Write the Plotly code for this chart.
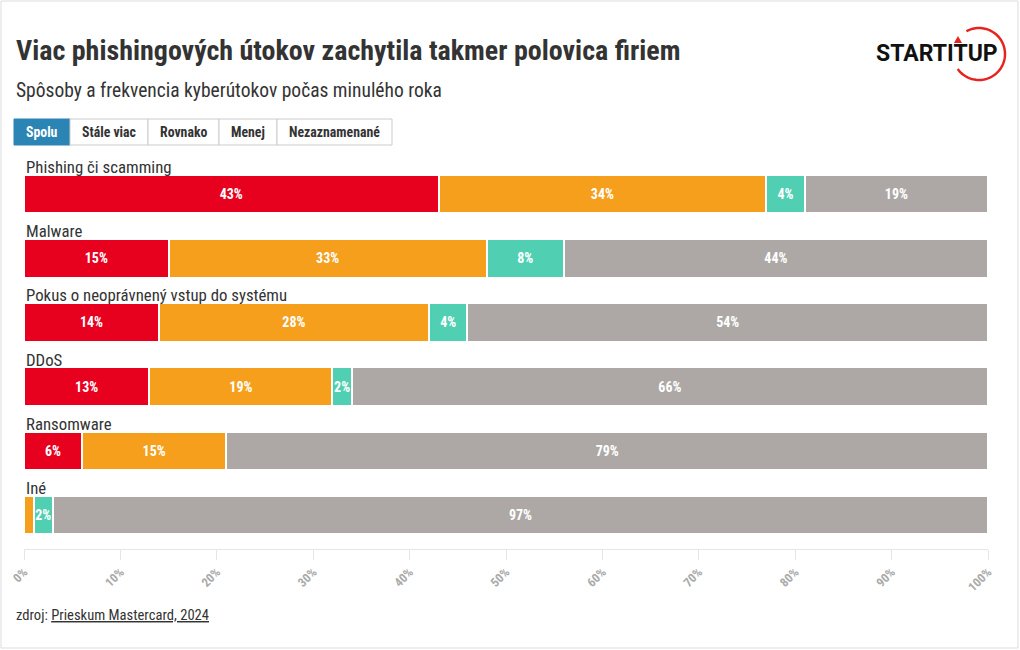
import math
import plotly.graph_objects as go

categories = ["Phishing či scamming", "Malware", "Pokus o neoprávnený vstup do systému",
              "DDoS", "Ransomware", "Iné"]
series_names = ["Stále viac", "Rovnako", "Menej", "Nezaznamenané"]
stale_viac = [43, 15, 14, 13, 6, 0]
rovnako = [34, 33, 28, 19, 15, 1]
menej = [4, 8, 4, 2, 0, 2]
nezaznamenane = [19, 44, 54, 66, 79, 97]
series_values = [stale_viac, rovnako, menej, nezaznamenane]
colors = ["#E8001F", "#F59F1D", "#50CFB2", "#ADA8A5"]
tick_values = list(range(0, 101, 10))
tick_labels = [f"{v}%" for v in tick_values]
buttons = ["Spolu", "Stále viac", "Rovnako", "Menej", "Nezaznamenané"]

W_PX, H_PX = 1020, 650
L, R, T, B = 24, 32, 162, 101
PW, PH = W_PX - L - R, H_PX - T - B
COND = "Roboto Condensed, Liberation Sans Narrow, DejaVu Sans Condensed, Roboto, sans-serif"


def px2x(px):
    return (px - L) / PW


def py2y(py):
    return (H_PX - B - py) / PH


fig = go.Figure()
ypos = list(range(len(categories)))
for name, vals, col in zip(series_names, series_values, colors):
    fig.add_trace(go.Bar(
        name=name, y=ypos, x=vals, orientation="h",
        marker=dict(color=col, line=dict(color="white", width=2)),
        width=0.6,
        text=[f"{v}%" if v >= 2 else "" for v in vals],
        textposition="inside", insidetextanchor="middle", textangle=0,
        textfont=dict(family=COND, size=14, color="white", weight="bold"),
        constraintext="none",
        hoverinfo="skip",
    ))

annotations = []
for i, c in enumerate(categories):
    annotations.append(dict(x=0, xref="paper", y=i - 0.42, yref="y", text=c,
                            xanchor="left", yanchor="middle", showarrow=False,
                            font=dict(family=COND, size=16.8, color="#333333")))

# title & subtitle
annotations.append(dict(x=px2x(14), xref="paper", y=py2y(50), yref="paper",
                        text="<b>Viac phishingových útokov zachytila takmer polovica firiem</b>",
                        xanchor="left", yanchor="middle", showarrow=False,
                        font=dict(family=COND, size=28, color="#333333")))
annotations.append(dict(x=px2x(14), xref="paper", y=py2y(91), yref="paper",
                        text="Spôsoby a frekvencia kyberútokov počas minulého roka",
                        xanchor="left", yanchor="middle", showarrow=False,
                        font=dict(family=COND, size=19.5, color="#333333")))
# source
annotations.append(dict(x=px2x(14), xref="paper", y=py2y(615), yref="paper",
                        text="zdroj: <u>Prieskum Mastercard, 2024</u>",
                        xanchor="left", yanchor="middle", showarrow=False,
                        font=dict(family=COND, size=14.6, color="#333333")))
# logo text
annotations.append(dict(x=px2x(874), xref="paper", y=py2y(54), yref="paper",
                        text="<b>STARTITUP</b>",
                        xanchor="left", yanchor="middle", showarrow=False,
                        font=dict(family="Roboto, sans-serif", size=23, color="#111111")))

shapes = []
# buttons
bx = [14, 70, 148, 219, 277, 392]
for i, b in enumerate(buttons):
    active = i == 0
    shapes.append(dict(type="rect", xref="paper", yref="paper",
                       x0=px2x(bx[i]), x1=px2x(bx[i + 1]), y0=py2y(145), y1=py2y(119),
                       fillcolor="#2A84B4" if active else "white",
                       line=dict(color="#2A84B4" if active else "#CCCCCC", width=1),
                       layer="above"))
    annotations.append(dict(x=px2x((bx[i] + bx[i + 1]) / 2), xref="paper",
                            y=py2y(132), yref="paper", text=f"<b>{b}</b>",
                            xanchor="center", yanchor="middle", showarrow=False,
                            font=dict(family=COND, size=13.8,
                                      color="white" if active else "#333333")))

# logo arc
cx, cy, r = 979, 54, 26
pts = []
for a in range(-145, 121, 3):
    t = math.radians(a)
    pts.append((px2x(cx + r * math.cos(t)), py2y(cy - r * math.sin(t))))
path = "M " + " L ".join(f"{x:.5f},{y:.5f}" for x, y in pts)
shapes.append(dict(type="path", xref="paper", yref="paper", path=path,
                   line=dict(color="#E52421", width=2.5)))
# small arrow head on the U
tri = [(954, 43), (962, 43), (958, 36)]
shapes.append(dict(type="path", xref="paper", yref="paper",
                   path="M " + " L ".join(f"{px2x(x):.5f},{py2y(y):.5f}" for x, y in tri) + " Z",
                   fillcolor="#E52421", line=dict(color="#E52421", width=0)))

# page border
shapes.append(dict(type="rect", xref="paper", yref="paper",
                   x0=px2x(1), x1=px2x(1018), y0=py2y(648), y1=py2y(1),
                   line=dict(color="#DDDDDD", width=1), fillcolor="rgba(0,0,0,0)"))

fig.update_layout(
    barmode="stack",
    width=W_PX, height=H_PX,
    margin=dict(l=L, r=R, t=T, b=B, autoexpand=False),
    paper_bgcolor="white", plot_bgcolor="white",
    showlegend=False,
    bargap=0.4,
    annotations=annotations,
    shapes=shapes,
    uniformtext=dict(minsize=14, mode="show"),
    xaxis=dict(range=[0, 100], tickmode="array", tickvals=tick_values, ticktext=tick_labels,
               tickangle=-45, showgrid=False, zeroline=False,
               showline=True, linecolor="#E6E6E6", linewidth=1,
               ticks="outside", ticklen=10, tickcolor="#E6E6E6",
               tickfont=dict(family=COND, size=12.5, color="#AAAAAA", weight="bold"),
               fixedrange=True),
    yaxis=dict(range=[5.53, -0.5], visible=False, fixedrange=True),
)

fig.write_html("out.html", config={"displayModeBar": False},
               post_script="document.body.style.margin='0';document.body.style.overflow='hidden';")
